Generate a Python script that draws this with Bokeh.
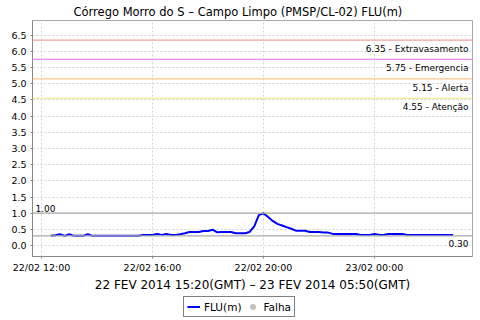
import pandas as pd
from bokeh.plotting import figure
from bokeh.layouts import column
from bokeh.models import (Span, FixedTicker, DatetimeTickFormatter, NumeralTickFormatter,
                          Legend, LegendItem, ColumnDataSource, Range1d)
from bokeh.core.properties import value
from bokeh.embed import file_html
from bokeh.resources import INLINE

# ---------------- data ----------------
title_text = "Córrego Morro do S – Campo Limpo (PMSP/CL-02) FLU(m)"
x_label = "22 FEV 2014 15:20(GMT) – 23 FEV 2014 05:50(GMT)"
series_name = "FLU(m)"
fail_name = "Falha"

start_time = "2014-02-22 12:20"
step = "10min"
flu_values = [
    0.30, 0.32, 0.35, 0.30, 0.35, 0.30, 0.30, 0.30, 0.35, 0.30,
    0.30, 0.30, 0.30, 0.30, 0.30, 0.30, 0.30, 0.30, 0.30, 0.30,
    0.33, 0.33, 0.33, 0.36, 0.33, 0.36, 0.33, 0.33, 0.35, 0.38,
    0.42, 0.42, 0.42, 0.45, 0.45, 0.49, 0.41, 0.42, 0.42, 0.42,
    0.38, 0.38, 0.38, 0.42, 0.59, 0.94, 1.00, 0.88, 0.76, 0.67,
    0.62, 0.57, 0.52, 0.46, 0.46, 0.46, 0.42, 0.42, 0.42, 0.40,
    0.40, 0.36, 0.36, 0.36, 0.36, 0.36, 0.36, 0.33, 0.33, 0.33,
    0.36, 0.33, 0.33, 0.36, 0.36, 0.36, 0.36, 0.33, 0.33, 0.33,
    0.33, 0.33, 0.33, 0.33, 0.33, 0.33, 0.33, 0.33,
]
flu_times = pd.date_range(start_time, periods=len(flu_values), freq=step)

fail_times = []
fail_values = []

level_values = [6.35, 5.75, 5.15, 4.55]
level_names = ["Extravasamento", "Emergencia", "Alerta", "Atenção"]
level_colors = ["#f2a0a0", "#ee88ee", "#ffc488", "#f4e8a0"]

ref_top_value = 1.00
ref_bottom_value = 0.30

y_ticks = [0.0, 0.5, 1.0, 1.5, 2.0, 2.5, 3.0, 3.5, 4.0, 4.5, 5.0, 5.5, 6.0, 6.5]
x_ticks = ["2014-02-22 12:00", "2014-02-22 16:00", "2014-02-22 20:00", "2014-02-23 00:00"]

x_start = pd.Timestamp("2014-02-22 11:40:30")
x_end = pd.Timestamp("2014-02-23 03:32:00")
y_start, y_end = -0.338, 6.954


def ms(t):
    return pd.Timestamp(t).value / 1e6


FONT = "DejaVu Sans"
LINE_COLOR = "#0000ff"
FAIL_COLOR = "#c0c0c0"

p = figure(width=480, height=296, output_backend="svg", toolbar_location=None,
           x_axis_type="datetime",
           x_range=Range1d(ms(x_start), ms(x_end)), y_range=Range1d(y_start, y_end),
           min_border_left=32, min_border_right=8, min_border_top=19, min_border_bottom=40)

p.title.text = title_text
p.title.text_font = FONT
p.title.text_font_size = "11.5px"
p.title.text_font_style = "normal"
p.title.text_color = "#000000"
p.title.align = "left"
p.title.offset = 41
p.title.standoff = 4

p.background_fill_color = "white"
p.border_fill_color = "white"
p.outline_line_color = "#a8a8a8"

# grids
for g in (p.xgrid, p.ygrid):
    g.grid_line_color = "#d4d4d4"
    g.grid_line_dash = "2 2"
    g.grid_line_width = 1

# axes
p.yaxis.ticker = FixedTicker(ticks=y_ticks)
p.yaxis.formatter = NumeralTickFormatter(format="0.0")
p.xaxis.ticker = FixedTicker(ticks=[ms(t) for t in x_ticks])
fmt = "%d/%m %H:%M"
p.xaxis.formatter = DatetimeTickFormatter(milliseconds=fmt, seconds=fmt, minsec=fmt, minutes=fmt,
                                          hourmin=fmt, hours=fmt, days=fmt, months=fmt, years=fmt)
for ax in (p.xaxis[0], p.yaxis[0]):
    ax.axis_line_color = "#888888"
    ax.major_tick_line_color = "#888888"
    ax.major_tick_out = 2
    ax.major_tick_in = 0
    ax.minor_tick_line_color = None
    ax.major_label_text_font = FONT
    ax.major_label_text_font_size = "9.5px"
    ax.major_label_text_color = "#000000"
p.yaxis.major_label_standoff = 4
p.xaxis.major_label_standoff = 3
p.xaxis.axis_label = x_label
p.xaxis.axis_label_text_font = FONT
p.xaxis.axis_label_text_font_size = "12px"
p.xaxis.axis_label_text_font_style = "normal"
p.xaxis.axis_label_text_color = "#000000"
p.xaxis.axis_label_standoff = 2

# level markers
for v, name, c in zip(level_values, level_names, level_colors):
    p.add_layout(Span(location=v, dimension="width", line_color=c, line_width=1.3))
p.text(x=[ms(x_end)] * len(level_values), y=level_values,
       text=[f"{v:.2f} - {n}" for v, n in zip(level_values, level_names)],
       text_font=value(FONT), text_font_size="9px", text_color="#000000",
       text_align="right", text_baseline="top", x_offset=-4, y_offset=4)

p.add_layout(Span(location=ref_top_value, dimension="width", line_color="#aaaaaa", line_width=1.2))
p.add_layout(Span(location=ref_bottom_value, dimension="width", line_color="#aaaaaa", line_width=1.2))
p.text(x=[ms(x_start)], y=[ref_top_value], text=[f"{ref_top_value:.2f}"],
       text_font=value(FONT), text_font_size="9px", text_color="#000000",
       text_align="left", text_baseline="alphabetic", x_offset=3, y_offset=-5)
p.text(x=[ms(x_end)], y=[ref_bottom_value], text=[f"{ref_bottom_value:.2f}"],
       text_font=value(FONT), text_font_size="9px", text_color="#000000",
       text_align="right", text_baseline="top", x_offset=-4, y_offset=4)

# series
src = ColumnDataSource(data=dict(t=flu_times, v=flu_values))
p.line("t", "v", source=src, line_color=LINE_COLOR, line_width=2)
fail_src = ColumnDataSource(data=dict(t=fail_times, v=fail_values))
p.scatter("t", "v", source=fail_src, size=8, fill_color=FAIL_COLOR, line_color=FAIL_COLOR)

# ---------------- legend strip (frame aligned with the chart's frame) ----------------
lg = figure(width=480, height=24, output_backend="svg", toolbar_location=None,
            x_range=Range1d(0, 1), y_range=Range1d(0, 1),
            min_border=0, x_axis_location=None, y_axis_location=None)
lg.grid.visible = False
lg.outline_line_color = None
lg.background_fill_color = "white"
lg.border_fill_color = "white"
# legend-swatch renderers: they reuse the series source, whose datetime values lie far outside this strip's range
lr_line = lg.line("t", "v", source=src, line_color=LINE_COLOR, line_width=2)
lr_fail = lg.scatter("t", "v", source=src, size=8, fill_color=FAIL_COLOR, line_color=FAIL_COLOR)

legend = Legend(items=[LegendItem(label=series_name, renderers=[lr_line]),
                       LegendItem(label=fail_name, renderers=[lr_fail], index=0)],
                location=(151, 3), orientation="horizontal",
                border_line_color="#000000", border_line_width=1.2,
                background_fill_color="white", background_fill_alpha=1,
                label_text_font=FONT, label_text_font_size="10.5px", label_text_color="#000000",
                glyph_width=13, glyph_height=13, label_standoff=4, spacing=5,
                padding=3, margin=0, label_height=12)
lg.add_layout(legend, "center")

layout = column(p, lg, spacing=0)
open("out.html", "w").write(file_html(layout, INLINE))
